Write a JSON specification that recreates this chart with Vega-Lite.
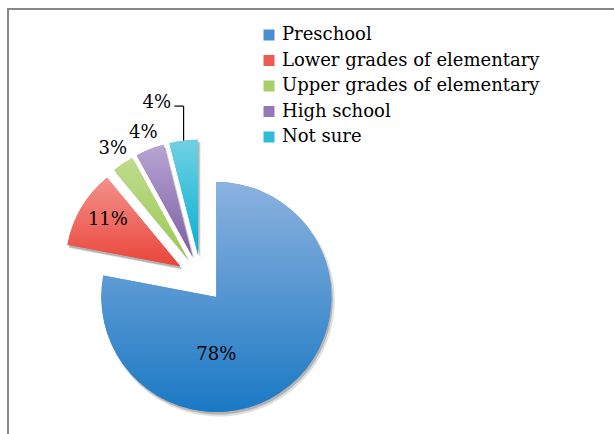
{
  "$schema": "https://vega.github.io/schema/vega-lite/v6.json",
  "width": 620,
  "height": 440,
  "autosize": {"type": "none"},
  "padding": {"left": 8, "top": 9, "right": 0, "bottom": 0},
  "background": "white",
  "config": {
    "view": {"stroke": "#868686", "strokeWidth": 2},
    "font": "DejaVu Serif"
  },
  "data": {
    "values": [
      {"category": "Preschool", "value": 78, "rank": 1},
      {"category": "Lower grades of elementary", "value": 11, "rank": 2},
      {"category": "Upper grades of elementary", "value": 3, "rank": 3},
      {"category": "High school", "value": 4, "rank": 4},
      {"category": "Not sure", "value": 4, "rank": 5}
    ]
  },
  "transform": [
    {"stack": "value", "groupby": [], "sort": [{"field": "rank", "order": "ascending"}], "as": ["s0", "s1"]},
    {"calculate": "(datum.s0 + datum.s1) / 2", "as": "mid"},
    {"calculate": "datum.mid / 100 * 2 * PI", "as": "a"},
    {"calculate": "0.2087 * sin(datum.a)", "as": "ex"},
    {"calculate": "0.2087 * cos(datum.a)", "as": "ey"},
    {"calculate": "datum.ex + sin(datum.a)", "as": "px"},
    {"calculate": "datum.ey + cos(datum.a)", "as": "py"},
    {"calculate": "datum.py + 0.30", "as": "py2"},
    {"calculate": "datum.px - 0.08", "as": "px2"},
    {"calculate": "datum.value + '%'", "as": "label"}
  ],
  "encoding": {
    "x": {"field": "ex", "type": "quantitative", "scale": {"domain": [-1.6783, 3.713], "nice": false, "zero": false}, "axis": null},
    "y": {"field": "ey", "type": "quantitative", "scale": {"domain": [-1.4826, 2.3435], "nice": false, "zero": false}, "axis": null}
  },
  "layer": [
    {
      "mark": {"type": "arc", "radius": 116, "fill": "#000000", "opacity": 0.12, "xOffset": 2.5, "yOffset": 3.5},
      "encoding": {
        "theta": {"field": "s0", "type": "quantitative", "scale": {"domain": [0, 100], "range": [0, 6.283185307]}},
        "theta2": {"field": "s1"}
      }
    },
    {
      "mark": {"type": "arc", "radius": 115, "fill": "#000000", "opacity": 0.2, "xOffset": 1.5, "yOffset": 2.5},
      "encoding": {
        "theta": {"field": "s0", "type": "quantitative", "scale": {"domain": [0, 100], "range": [0, 6.283185307]}},
        "theta2": {"field": "s1"}
      }
    },
    {
      "mark": {"type": "arc", "radius": 115},
      "encoding": {
        "theta": {"field": "s0", "type": "quantitative", "scale": {"domain": [0, 100], "range": [0, 6.283185307]}},
        "theta2": {"field": "s1"},
        "color": {
          "field": "category",
          "type": "nominal",
          "sort": null,
          "scale": {
            "domain": ["Preschool", "Lower grades of elementary", "Upper grades of elementary", "High school", "Not sure"],
            "range": ["#4A8DD2", "#EC5A50", "#A7CF66", "#9478B9", "#2EBCD8"]
          },
          "legend": {
            "title": null,
            "orient": "none",
            "legendX": 252,
            "legendY": 17,
            "padding": 0,
            "symbolType": "square",
            "symbolSize": 121,
            "symbolStrokeWidth": 0,
            "symbolOpacity": 1,
            "labelFont": "DejaVu Serif",
            "labelFontSize": 18,
            "labelColor": "#000000",
            "labelOffset": 4,
            "rowPadding": 7.5,
            "labelLimit": 400
          }
        }
      }
    },
    {
      "transform": [{"filter": "datum.category === 'Preschool'"}],
      "mark": {"type": "arc", "radius": 115, "fill": {"gradient": "linear", "x1": 0, "y1": 0, "x2": 0, "y2": 1, "stops": [{"offset": 0, "color": "#8CB2DF"}, {"offset": 1, "color": "#1A79C4"}]}},
      "encoding": {
        "theta": {"field": "s0", "type": "quantitative", "scale": {"domain": [0, 100], "range": [0, 6.283185307]}},
        "theta2": {"field": "s1"}
      }
    },
    {
      "transform": [{"filter": "datum.category === 'Lower grades of elementary'"}],
      "mark": {"type": "arc", "radius": 115, "fill": {"gradient": "linear", "x1": 0, "y1": 0, "x2": 0, "y2": 1, "stops": [{"offset": 0, "color": "#F3918B"}, {"offset": 1, "color": "#E9453A"}]}},
      "encoding": {
        "theta": {"field": "s0", "type": "quantitative", "scale": {"domain": [0, 100], "range": [0, 6.283185307]}},
        "theta2": {"field": "s1"}
      }
    },
    {
      "transform": [{"filter": "datum.category === 'Upper grades of elementary'"}],
      "mark": {"type": "arc", "radius": 115, "fill": {"gradient": "linear", "x1": 0, "y1": 0, "x2": 0, "y2": 1, "stops": [{"offset": 0, "color": "#C0DB8F"}, {"offset": 1, "color": "#9CCB4C"}]}},
      "encoding": {
        "theta": {"field": "s0", "type": "quantitative", "scale": {"domain": [0, 100], "range": [0, 6.283185307]}},
        "theta2": {"field": "s1"}
      }
    },
    {
      "transform": [{"filter": "datum.category === 'High school'"}],
      "mark": {"type": "arc", "radius": 115, "fill": {"gradient": "linear", "x1": 0, "y1": 0, "x2": 0, "y2": 1, "stops": [{"offset": 0, "color": "#B7A5D2"}, {"offset": 1, "color": "#7D5DA5"}]}},
      "encoding": {
        "theta": {"field": "s0", "type": "quantitative", "scale": {"domain": [0, 100], "range": [0, 6.283185307]}},
        "theta2": {"field": "s1"}
      }
    },
    {
      "transform": [{"filter": "datum.category === 'Not sure'"}],
      "mark": {"type": "arc", "radius": 115, "fill": {"gradient": "linear", "x1": 0, "y1": 0, "x2": 0, "y2": 1, "stops": [{"offset": 0, "color": "#72D0E2"}, {"offset": 1, "color": "#03B1D5"}]}},
      "encoding": {
        "theta": {"field": "s0", "type": "quantitative", "scale": {"domain": [0, 100], "range": [0, 6.283185307]}},
        "theta2": {"field": "s1"}
      }
    },
    {
      "transform": [{"filter": "datum.category === 'Preschool'"}],
      "mark": {"type": "text", "radius": 58, "thetaOffset": 0.691, "fontSize": 18, "font": "DejaVu Serif", "color": "#000000"},
      "encoding": {
        "theta": {"field": "mid", "type": "quantitative", "scale": {"domain": [0, 100], "range": [0, 6.283185307]}},
        "text": {"field": "label"}
      }
    },
    {
      "transform": [{"filter": "datum.category === 'Lower grades of elementary'"}],
      "mark": {"type": "text", "radius": 86, "thetaOffset": 0.035, "fontSize": 18, "font": "DejaVu Serif", "color": "#000000"},
      "encoding": {
        "theta": {"field": "mid", "type": "quantitative", "scale": {"domain": [0, 100], "range": [0, 6.283185307]}},
        "text": {"field": "label"}
      }
    },
    {
      "transform": [{"filter": "datum.category === 'Upper grades of elementary' || datum.category === 'High school'"}],
      "mark": {"type": "text", "radius": 133, "fontSize": 18, "font": "DejaVu Serif", "color": "#000000"},
      "encoding": {
        "theta": {"field": "mid", "type": "quantitative", "scale": {"domain": [0, 100], "range": [0, 6.283185307]}},
        "text": {"field": "label"}
      }
    },
    {
      "transform": [{"filter": "datum.category === 'Not sure'"}],
      "mark": {"type": "text", "radius": 157, "thetaOffset": -0.14, "fontSize": 18, "font": "DejaVu Serif", "color": "#000000"},
      "encoding": {
        "theta": {"field": "mid", "type": "quantitative", "scale": {"domain": [0, 100], "range": [0, 6.283185307]}},
        "text": {"field": "label"}
      }
    },
    {
      "transform": [{"filter": "datum.category === 'Not sure'"}],
      "mark": {"type": "rule", "color": "#000000", "strokeWidth": 1.2},
      "encoding": {
        "x": {"field": "px", "type": "quantitative"},
        "y": {"field": "py", "type": "quantitative"},
        "y2": {"field": "py2"}
      }
    },
    {
      "transform": [{"filter": "datum.category === 'Not sure'"}],
      "mark": {"type": "rule", "color": "#000000", "strokeWidth": 1.2},
      "encoding": {
        "x": {"field": "px2", "type": "quantitative"},
        "x2": {"field": "px"},
        "y": {"field": "py2", "type": "quantitative"}
      }
    }
  ]
}
